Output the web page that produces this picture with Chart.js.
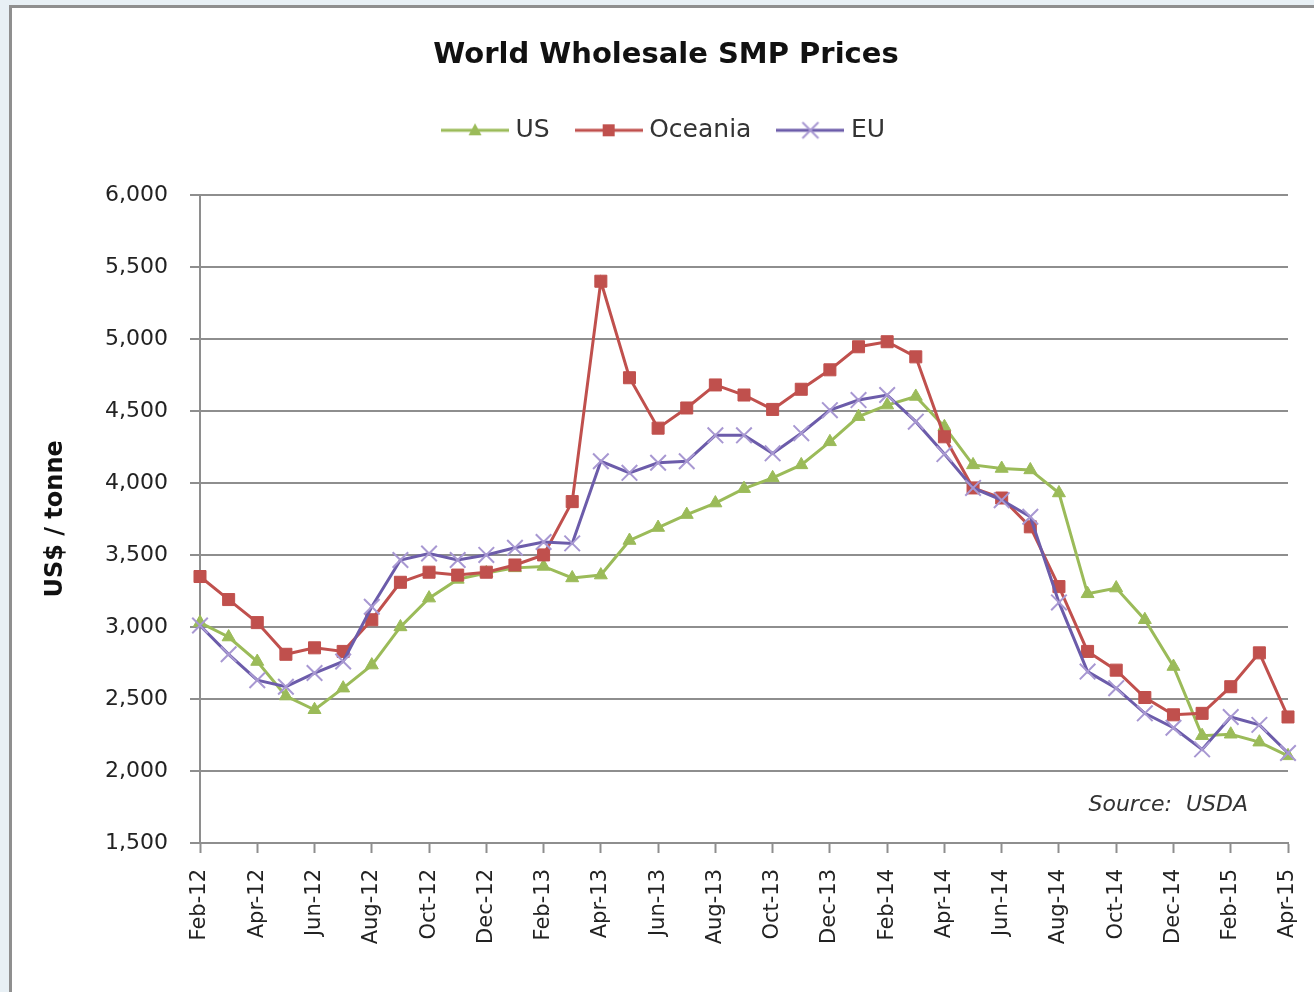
<!DOCTYPE html>
<html>
<head>
<meta charset="utf-8">
<title>World Wholesale SMP Prices</title>
<script src="https://cdn.jsdelivr.net/npm/chart.js@4.4.1/dist/chart.umd.min.js"></script>
<style>
  html, body { margin: 0; padding: 0; width: 1314px; height: 992px; overflow: hidden; background: #e8f0f5; }
  #panel { position: absolute; left: 9px; top: 5px; width: 1400px; height: 1100px; background: #fff;
           border-left: 3px solid #8f8f8f; border-top: 3px solid #8f8f8f; }
  #chart { position: absolute; left: 0; top: 0; }
</style>
</head>
<body>
<div id="panel"></div>
<canvas id="chart" width="1314" height="992"></canvas>
<script>
// Monthly categories, Feb 2012 – Apr 2015
const months = [
  'Feb-12','Mar-12','Apr-12','May-12','Jun-12','Jul-12','Aug-12','Sep-12','Oct-12','Nov-12','Dec-12',
  'Jan-13','Feb-13','Mar-13','Apr-13','May-13','Jun-13','Jul-13','Aug-13','Sep-13','Oct-13','Nov-13','Dec-13',
  'Jan-14','Feb-14','Mar-14','Apr-14','May-14','Jun-14','Jul-14','Aug-14','Sep-14','Oct-14','Nov-14','Dec-14',
  'Jan-15','Feb-15','Mar-15','Apr-15'
];

// SMP prices, US$ per tonne
const usPrices = [
  3030, 2930, 2760, 2520, 2425, 2575, 2735, 3000, 3200, 3330, 3375,
  3410, 3420, 3340, 3360, 3600, 3690, 3780, 3860, 3960, 4035, 4125, 4285,
  4460, 4540, 4600, 4390, 4125, 4100, 4090, 3930, 3230, 3270, 3050, 2725,
  2245, 2255, 2200, 2105
];
const oceaniaPrices = [
  3350, 3190, 3030, 2810, 2855, 2830, 3050, 3310, 3380, 3360, 3380,
  3430, 3500, 3870, 5400, 4730, 4380, 4520, 4680, 4610, 4510, 4650, 4785,
  4945, 4980, 4875, 4320, 3965, 3895, 3695, 3280, 2830, 2700, 2510, 2390,
  2400, 2585, 2820, 2375
];
const euPrices = [
  3010, 2810, 2630, 2585, 2680, 2760, 3140, 3465, 3510, 3465, 3500,
  3550, 3590, 3580, 4150, 4070, 4140, 4150, 4330, 4330, 4205, 4345, 4505,
  4575, 4610, 4425, 4200, 3965, 3880, 3765, 3170, 2690, 2575, 2400, 2300,
  2150, 2375, 2320, 2125
];

// Value axis tick labels
const yTickValues = [1500, 2000, 2500, 3000, 3500, 4000, 4500, 5000, 5500, 6000];

const seriesNames = ['US', 'Oceania', 'EU'];
const chartTitle = 'World Wholesale SMP Prices';
const yAxisTitle = 'US$ / tonne';
const sourceText = 'Source:  USDA';

const FONT = '"DejaVu Sans", "Verdana", sans-serif';
const GRID = '#8e8e8e';
const GREEN = '#9bbb59';
const RED = '#c0504d';
const PURPLE = '#6c5caa';
const PURPLE_MARK = '#a898d2';

// Legend swatch: a short stroke of the series line with its marker in the middle
function legendSwatch(lineColor, markColor, kind) {
  const c = document.createElement('canvas');
  c.width = 68; c.height = 24;
  const g = c.getContext('2d');
  const cx = 34, cy = 12;
  g.strokeStyle = lineColor; g.lineWidth = 3;
  g.beginPath(); g.moveTo(0, cy); g.lineTo(68, cy); g.stroke();
  g.fillStyle = markColor; g.strokeStyle = markColor;
  if (kind === 'triangle') {
    g.beginPath(); g.moveTo(cx, cy - 7); g.lineTo(cx + 6.5, cy + 5); g.lineTo(cx - 6.5, cy + 5); g.closePath(); g.fill();
  } else if (kind === 'rect') {
    g.fillRect(cx - 6, cy - 6, 12, 12);
  } else {
    g.lineWidth = 2;
    g.beginPath(); g.moveTo(cx - 8, cy - 8); g.lineTo(cx + 8, cy + 8); g.moveTo(cx + 8, cy - 8); g.lineTo(cx - 8, cy + 8); g.stroke();
  }
  return c;
}
const swatches = [
  legendSwatch(GREEN, GREEN, 'triangle'),
  legendSwatch(RED, RED, 'rect'),
  legendSwatch(PURPLE, PURPLE_MARK, 'cross')
];

// Extra space between the legend row and the plot
const legendGap = {
  id: 'legendGap',
  beforeInit(chart) {
    const fit = chart.legend.fit;
    chart.legend.fit = function () { fit.call(this); this.height += 42; };
  }
};

// Source note in the lower right of the plot
const sourceNote = {
  id: 'sourceNote',
  afterDraw(chart) {
    const { ctx, chartArea } = chart;
    ctx.save();
    ctx.font = 'italic 22px ' + FONT;
    ctx.fillStyle = '#333';
    ctx.textAlign = 'right';
    ctx.textBaseline = 'middle';
    ctx.fillText(sourceText, chartArea.right - 40, chartArea.bottom - 38);
    ctx.restore();
  }
};

new Chart(document.getElementById('chart'), {
  type: 'line',
  data: {
    labels: months,
    datasets: [
      {
        label: seriesNames[0], data: usPrices, order: 2,
        borderColor: GREEN, backgroundColor: GREEN, borderWidth: 3,
        pointStyle: 'triangle', pointRadius: 7.5, pointBorderWidth: 1,
        pointBackgroundColor: GREEN, pointBorderColor: GREEN
      },
      {
        label: seriesNames[1], data: oceaniaPrices, order: 1,
        borderColor: RED, backgroundColor: RED, borderWidth: 3,
        pointStyle: 'rect', pointRadius: 8.5, pointBorderWidth: 1,
        pointBackgroundColor: RED, pointBorderColor: RED
      },
      {
        label: seriesNames[2], data: euPrices, order: 0,
        borderColor: PURPLE, backgroundColor: PURPLE_MARK, borderWidth: 3,
        pointStyle: 'crossRot', pointRadius: 11, pointBorderWidth: 2,
        pointBackgroundColor: PURPLE_MARK, pointBorderColor: PURPLE_MARK
      }
    ]
  },
  options: {
    responsive: false,
    animation: false,
    devicePixelRatio: 1,
    elements: { line: { tension: 0 } },
    layout: { padding: { left: 44, right: 26, top: 6, bottom: 0 } },
    plugins: {
      tooltip: { enabled: false },
      title: {
        display: true, text: chartTitle, color: '#111',
        font: { family: FONT, size: 29, weight: 'bold' },
        padding: { top: 32, bottom: 14 }
      },
      legend: {
        display: true, position: 'top',
        labels: {
          usePointStyle: true, pointStyleWidth: 56, boxHeight: 14,
          padding: 31, color: '#333',
          font: { family: FONT, size: 25 },
          generateLabels(chart) {
            const items = Chart.defaults.plugins.legend.labels.generateLabels(chart);
            items.sort((a, b) => a.datasetIndex - b.datasetIndex);
            items.forEach((it) => { it.pointStyle = swatches[it.datasetIndex]; });
            return items;
          }
        }
      }
    },
    scales: {
      x: {
        type: 'category',
        offset: false,
        grid: {
          drawOnChartArea: false, drawTicks: true, tickLength: 10, tickWidth: 2,
          tickColor: (c) => (c.index % 2 === 0 ? GRID : 'rgba(0,0,0,0)')
        },
        border: { display: true, color: GRID, width: 2 },
        ticks: {
          autoSkip: false, maxRotation: 90, minRotation: 90, padding: 16,
          color: '#222', font: { family: FONT, size: 21 },
          callback: (v, i) => (i % 2 === 0 ? months[i] : '')
        },
        afterFit: (s) => { s.height = 149; s.paddingLeft = 0; s.paddingRight = 0; }
      },
      y: {
        min: 1500, max: 6000,
        afterBuildTicks: (s) => { s.ticks = yTickValues.map((v) => ({ value: v })); },
        grid: { color: GRID, lineWidth: 2, drawTicks: true, tickLength: 10 },
        border: { display: true, color: GRID, width: 2 },
        ticks: {
          padding: 22, color: '#222', font: { family: FONT, size: 22 },
          callback: (v) => Number(v).toLocaleString('en-US')
        },
        title: {
          display: true, text: yAxisTitle, color: '#111',
          font: { family: FONT, size: 24, weight: 'bold' },
          padding: { top: -3, bottom: 0 }
        },
        afterFit: (s) => { s.width = 156; }
      }
    }
  },
  plugins: [legendGap, sourceNote]
});
</script>
</body>
</html>
